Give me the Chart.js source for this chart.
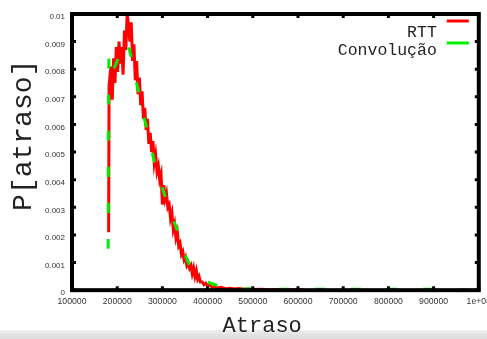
<!DOCTYPE html>
<html>
<head>
<meta charset="utf-8">
<script src="https://cdn.jsdelivr.net/npm/chart.js@4.4.0/dist/chart.umd.min.js"></script>
<style>
  html, body { margin: 0; padding: 0; width: 487px; height: 339px; overflow: hidden; background: #fff; }
  #band { position: absolute; left: 0; top: 330px; width: 487px; height: 9px; background: linear-gradient(#efefef, #d9d9d9); }
  #wrap { position: absolute; left: 0; top: 0; width: 497px; height: 339px; }
</style>
</head>
<body>
<div id="band"></div>
<div id="wrap"><canvas id="chart" width="497" height="339"></canvas></div>
<script>
// RTT histogram
const rttAtraso = [181000, 182000, 186000, 189000, 192000, 195000, 198000, 201000, 204000, 207000,
  210000, 213000, 216000, 219000, 222000, 225000, 228000, 231000, 234000, 237000,
  240000, 243000, 246000, 249000, 252000, 255000, 258000, 261000, 264000, 267000,
  270000, 273000, 276000, 279000, 282000, 285000, 288000, 291000, 294000, 297000,
  300000, 303000, 306000, 309000, 312000, 315000, 318000, 321000, 324000, 327000,
  330000, 333000, 336000, 339000, 342000, 345000, 348000, 351000, 354000, 357000,
  360000, 363000, 366000, 369000, 372000, 375000, 378000, 381000, 384000, 388000,
  392000, 396000, 400000, 405000, 410000, 415000, 420000, 430000, 440000, 450000,
  460000, 470000, 480000, 490000, 500000, 520000, 540000, 560000, 580000, 600000, 612000];
const rttProb = [0.0021, 0.0074, 0.0081, 0.0069, 0.0084, 0.0075, 0.0088, 0.0079, 0.0090, 0.0082,
  0.0088, 0.0078, 0.0094, 0.0087, 0.0100, 0.0096, 0.0090, 0.0097, 0.0083, 0.0089,
  0.0076, 0.0083, 0.0071, 0.0077, 0.0067, 0.0072, 0.0062, 0.0066, 0.0058, 0.0062,
  0.0053, 0.0057, 0.0050, 0.0054, 0.0046, 0.0049, 0.0043, 0.0045, 0.0040, 0.0042,
  0.0031, 0.0038, 0.0033, 0.0035, 0.0030, 0.0031, 0.0026, 0.0028, 0.0022, 0.0024,
  0.0019, 0.0021, 0.0016, 0.0017, 0.0013, 0.0014, 0.0011, 0.0012, 0.0009, 0.0010,
  0.0008, 0.0009, 0.0006, 0.0008, 0.0005, 0.0007, 0.0004, 0.0005, 0.0003, 0.0003,
  0.0002, 0.00025, 0.00015, 0.0002, 0.0001, 0.00012, 0.00008, 0.0001, 0.00005, 0.00007,
  0.00004, 0.00006, 0.00003, 0.00004, 0.00002, 0.00003, 0.00001, 0.00002, 0.00001, 0.00002, 0.00001];

// Convolução curve
const convAtraso = [180000, 182000, 190000, 200000, 210000, 220000, 230000, 240000, 250000, 260000,
  270000, 280000, 290000, 300000, 310000, 320000, 330000, 340000, 350000, 360000,
  370000, 380000, 390000, 400000, 420000, 440000, 460000, 500000, 600000, 700000,
  800000, 900000, 1000000];
const convProb = [0.0015, 0.0086, 0.0080, 0.0083, 0.0088, 0.0090, 0.0085, 0.0077, 0.0070, 0.0062,
  0.0056, 0.0048, 0.0042, 0.0037, 0.0032, 0.0027, 0.0023, 0.0018, 0.0013, 0.0009,
  0.0007, 0.0005, 0.0004, 0.0003, 0.00018, 0.0001, 0.00006, 0.00004, 0.00003, 0.00003,
  0.00003, 0.00003, 0];

const xTickLabels = ['100000', '200000', '300000', '400000', '500000', '600000', '700000', '800000', '900000', '1e+06'];
const yTickLabels = ['0', '0.001', '0.002', '0.003', '0.004', '0.005', '0.006', '0.007', '0.008', '0.009', '0.01'];

const toPoints = (xs, ys) => xs.map((x, i) => ({ x: x, y: ys[i] }));

// thick gnuplot frame with small inward ticks
const framePlugin = {
  id: 'frame',
  afterDatasetsDraw(chart) {
    const { ctx, chartArea: a, scales } = chart;
    ctx.save();
    ctx.strokeStyle = '#000';
    ctx.lineWidth = 3;
    ctx.beginPath();
    scales.x.ticks.forEach((t) => {
      const px = scales.x.getPixelForValue(t.value);
      ctx.moveTo(px, a.bottom); ctx.lineTo(px, a.bottom - 4);
      ctx.moveTo(px, a.top); ctx.lineTo(px, a.top + 4);
    });
    scales.y.ticks.forEach((t) => {
      const py = scales.y.getPixelForValue(t.value);
      ctx.moveTo(a.left, py); ctx.lineTo(a.left + 4, py);
      ctx.moveTo(a.right, py); ctx.lineTo(a.right - 4, py);
    });
    ctx.stroke();
    ctx.lineWidth = 4;
    ctx.strokeRect(a.left, a.top, a.right - a.left, a.bottom - a.top);
    ctx.restore();
  }
};

// legend: right-aligned text, line sample on the right
const keyPlugin = {
  id: 'key',
  afterDraw(chart) {
    const { ctx, chartArea: a } = chart;
    const rows = [{ base: 23, line: 7 }, { base: 41, line: 29 }];
    ctx.save();
    ctx.font = '16.5px "Liberation Mono"';
    ctx.textAlign = 'right';
    ctx.textBaseline = 'alphabetic';
    chart.data.datasets.forEach((ds, i) => {
      ctx.fillStyle = '#222';
      ctx.fillText(ds.label, a.right - 42, a.top + rows[i].base);
      ctx.strokeStyle = ds.borderColor;
      ctx.lineWidth = 3;
      ctx.setLineDash([]);
      ctx.beginPath();
      ctx.moveTo(a.right - 32, a.top + rows[i].line);
      ctx.lineTo(a.right - 10, a.top + rows[i].line);
      ctx.stroke();
    });
    ctx.restore();
  }
};

new Chart(document.getElementById('chart'), {
  type: 'line',
  data: {
    datasets: [
      {
        label: 'RTT',
        data: toPoints(rttAtraso, rttProb),
        borderColor: '#ff0000',
        borderWidth: 3,
        pointRadius: 0,
        tension: 0,
        fill: false,
        order: 2
      },
      {
        label: 'Convolução',
        data: toPoints(convAtraso, convProb),
        borderColor: '#00ee00',
        borderWidth: 3,
        borderDash: [10, 26],
        pointRadius: 0,
        tension: 0.3,
        fill: false,
        order: 1
      }
    ]
  },
  options: {
    responsive: false,
    animation: false,
    devicePixelRatio: 1,
    layout: { padding: { left: 10, top: 14, right: 14, bottom: 0 } },
    plugins: { legend: { display: false }, tooltip: { enabled: false } },
    scales: {
      x: {
        type: 'linear',
        min: 100000,
        max: 1000000,
        grid: { display: false, drawTicks: false },
        border: { display: false },
        ticks: {
          stepSize: 100000,
          padding: 6,
          maxRotation: 0,
          color: '#333',
          font: { family: '"Liberation Sans"', size: 8.7 },
          callback: (v, i) => xTickLabels[i]
        },
        title: {
          display: true,
          text: 'Atraso  ',
          color: '#222',
          padding: 0,
          font: { family: '"Liberation Mono"', size: 22 }
        }
      },
      y: {
        min: 0,
        max: 0.01,
        grid: { display: false, drawTicks: false },
        border: { display: false },
        ticks: {
          stepSize: 0.001,
          padding: 7,
          labelOffset: 3,
          color: '#333',
          font: { family: '"Liberation Sans"', size: 8 },
          callback: (v, i) => yTickLabels[i]
        },
        title: {
          display: true,
          text: '  P[atraso]',
          color: '#222',
          padding: 0,
          font: { family: '"Liberation Mono"', size: 28, lineHeight: 1 }
        }
      }
    }
  },
  plugins: [framePlugin, keyPlugin]
});
</script>
</body>
</html>
